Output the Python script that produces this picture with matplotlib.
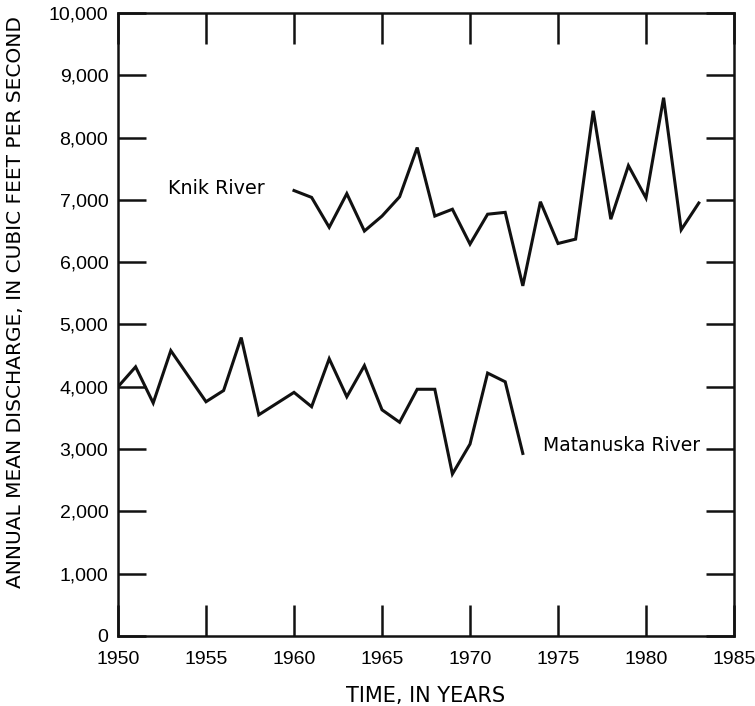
import matplotlib
matplotlib.use("Agg")
import matplotlib.pyplot as plt
from matplotlib.ticker import FuncFormatter

plt.rcParams['font.family'] = ['Liberation Sans', 'DejaVu Sans']

# annual mean discharge, cubic feet per second
knik_years = [1960, 1961, 1962, 1963, 1964, 1965, 1966, 1967, 1968, 1969,
              1970, 1971, 1972, 1973, 1974, 1975, 1976, 1977, 1978, 1979,
              1980, 1981, 1982, 1983]
knik_flow = [7150, 7040, 6560, 7100, 6500, 6740, 7050, 7840, 6740, 6850,
             6290, 6770, 6800, 5620, 6970, 6300, 6370, 8430, 6690, 7550,
             7030, 8640, 6520, 6950]

matanuska_years = [1950, 1951, 1952, 1953, 1955, 1956, 1957, 1958, 1960, 1961,
                   1962, 1963, 1964, 1965, 1966, 1967, 1968, 1969, 1970, 1971,
                   1972, 1973]
matanuska_flow = [4000, 4320, 3740, 4580, 3760, 3940, 4790, 3550, 3910, 3680,
                  4450, 3840, 4340, 3630, 3430, 3960, 3960, 2600, 3080, 4220,
                  4080, 2930]

year_ticks = list(range(1950, 1986, 5))
flow_ticks = list(range(0, 10001, 1000))

wide = ['DejaVu Sans']

fig = plt.figure(figsize=(7.55, 7.06), dpi=100)
ax = fig.add_axes([0.1563, 0.0992, 0.8159, 0.8824])

ax.plot(knik_years, knik_flow, color='#111111', lw=2.2, solid_joinstyle='miter')
ax.plot(matanuska_years, matanuska_flow, color='#111111', lw=2.2, solid_joinstyle='miter')

ax.text(1952.85, 7190, 'Knik River', fontsize=13.8, va='center', ha='left', family=wide)
ax.text(1974.15, 3050, 'Matanuska River', fontsize=13.5, va='center', ha='left', family=wide)

ax.set_xlim(1950, 1985)
ax.set_ylim(0, 10000)
ax.set_xticks(year_ticks)
ax.set_yticks(flow_ticks)
ax.yaxis.set_major_formatter(FuncFormatter(lambda v, p: f'{int(v):,}'))

ax.tick_params(axis='both', direction='in', top=True, right=True,
               width=1.8, labelsize=14, color='#111111')
ax.tick_params(axis='x', length=22, pad=11)
ax.tick_params(axis='y', length=20, pad=7)

for sp in ax.spines.values():
    sp.set_linewidth(1.8)
    sp.set_color('#111111')

ax.set_xlabel('TIME, IN YEARS', fontsize=15, labelpad=13, family=wide)
ax.set_ylabel('ANNUAL MEAN DISCHARGE, IN CUBIC FEET PER SECOND', fontsize=14.5,
              family=wide, va='center')
ax.yaxis.set_label_coords(-0.167, 0.536)

fig.savefig('out.png', dpi=100)
